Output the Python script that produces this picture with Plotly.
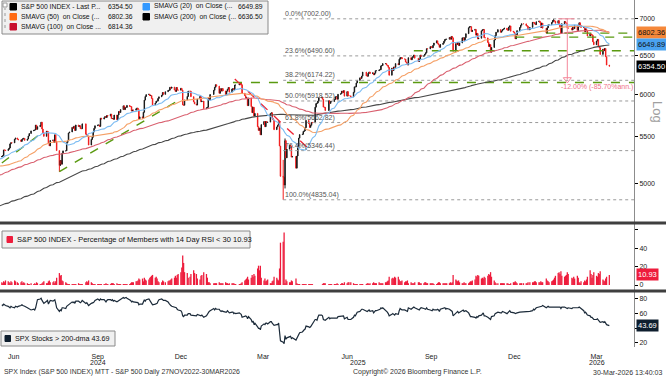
import math
import numpy as np
import pandas as pd
import plotly.graph_objects as go

# ---------------- data ----------------
HOLIDAYS = ["2023-09-04", "2023-11-23", "2023-12-25", "2024-01-01", "2024-01-15", "2024-02-19",
            "2024-03-29", "2024-05-27", "2024-06-19", "2024-07-04", "2024-09-02", "2024-11-28",
            "2024-12-25", "2025-01-01", "2025-01-09", "2025-01-20", "2025-02-17", "2025-04-18",
            "2025-05-26", "2025-06-19", "2025-07-04", "2025-09-01", "2025-11-27", "2025-12-25",
            "2026-01-01", "2026-01-19", "2026-02-16"]

close_2023 = [4577, 4513, 4502, 4478, 4518, 4499, 4468, 4469, 4464, 4490, 4438, 4404, 4370, 4370, 4400, 4388, 4436, 4376, 4406, 4433, 4498, 4515, 4508,
              4516, 4497, 4465, 4451, 4457, 4487, 4462, 4467, 4505, 4450, 4454, 4444, 4402, 4330, 4320, 4337, 4274, 4275, 4300, 4288,
              4288, 4229, 4264, 4258, 4309, 4336, 4358, 4377, 4350, 4328, 4374, 4373, 4315, 4278, 4224, 4217, 4248, 4187, 4137, 4117, 4167, 4194,
              4238, 4318, 4358, 4366, 4378, 4383, 4347, 4415, 4412, 4496, 4503, 4508, 4514, 4547, 4538, 4557, 4559, 4550, 4555, 4551, 4568,
              4595, 4570, 4567, 4549, 4586, 4604, 4622, 4644, 4707, 4720, 4719, 4741, 4768, 4698, 4747, 4755, 4775, 4782, 4783, 4770]
close_2024 = [4743, 4705, 4689, 4697, 4764, 4757, 4783, 4780, 4784, 4766, 4739, 4781, 4840, 4850, 4865, 4869, 4894, 4891, 4928, 4925, 4846,
              4906, 4959, 4943, 4954, 4995, 4998, 5027, 5022, 4953, 5001, 5030, 5006, 4976, 4982, 5087, 5089, 5070, 5078, 5070, 5096,
              5137, 5131, 5079, 5105, 5157, 5124, 5118, 5175, 5165, 5150, 5117, 5149, 5179, 5225, 5242, 5234, 5218, 5204, 5248, 5254,
              5244, 5206, 5211, 5147, 5204, 5202, 5210, 5161, 5199, 5123, 5062, 5051, 5022, 5011, 4967, 5011, 5071, 5072, 5048, 5100, 5116, 5036,
              5018, 5064, 5128, 5181, 5188, 5188, 5214, 5223, 5221, 5247, 5308, 5297, 5303, 5308, 5321, 5307, 5268, 5305, 5306, 5267, 5235, 5278,
              5283, 5291, 5354, 5353, 5347, 5361, 5375, 5421, 5434, 5432, 5473, 5487, 5473, 5465, 5448, 5469, 5478, 5483, 5460,
              5475, 5509, 5537, 5567, 5573, 5577, 5634, 5585, 5615, 5631, 5667, 5588, 5545, 5505, 5564, 5556, 5427, 5399, 5459, 5464, 5436, 5522,
              5447, 5347, 5186, 5240, 5200, 5319, 5344, 5344, 5434, 5455, 5543, 5554, 5608, 5597, 5621, 5571, 5635, 5617, 5626, 5592, 5592, 5648,
              5529, 5520, 5503, 5408, 5471, 5496, 5554, 5596, 5626, 5633, 5635, 5618, 5714, 5703, 5719, 5733, 5722, 5745, 5738, 5762,
              5709, 5710, 5700, 5751, 5696, 5751, 5792, 5780, 5815, 5860, 5815, 5842, 5841, 5865, 5854, 5851, 5797, 5810, 5808, 5824, 5833, 5814, 5705,
              5729, 5713, 5783, 5929, 5973, 5996, 6001, 5984, 5985, 5949, 5871, 5894, 5917, 5917, 5949, 5969, 5987, 6022, 5999, 6032,
              6047, 6050, 6086, 6075, 6090, 6053, 6035, 6084, 6051, 6051, 6074, 6051, 5872, 5867, 5931, 5974, 6040, 6038, 5971, 5907, 5882]
close_2025 = [5869, 5942, 5975, 5909, 5918, 5827, 5836, 5843, 5950, 5937, 5997, 6049, 6086, 6119, 6101, 6012, 6068, 6039, 6071, 6041,
              5995, 6038, 6061, 6084, 6026, 6066, 6069, 6052, 6115, 6115, 6130, 6144, 6118, 6013, 5983, 5955, 5956, 5862, 5955,
              5850, 5778, 5843, 5739, 5770, 5615, 5572, 5599, 5522, 5639, 5675, 5615, 5675, 5663, 5668, 5768, 5777, 5712, 5693, 5581, 5612,
              5633, 5671, 5397, 5074, 5062, 4983, 5457, 5268, 5363, 5406, 5397, 5276, 5283, 5158, 5288, 5376, 5485, 5525, 5529, 5561, 5569,
              5604, 5687, 5650, 5607, 5631, 5664, 5660, 5844, 5887, 5893, 5917, 5958, 5964, 5940, 5845, 5842, 5803, 5922, 5889, 5912, 5912,
              5936, 5970, 5971, 5939, 6000, 6006, 6039, 6022, 6045, 5977, 6033, 5983, 5981, 5968, 6025, 6092, 6092, 6141, 6173, 6205,
              6198, 6227, 6279, 6230, 6226, 6263, 6280, 6260, 6269, 6244, 6264, 6297, 6297, 6306, 6310, 6359, 6363, 6389, 6390, 6371, 6363, 6339,
              6238, 6330, 6299, 6345, 6340, 6389, 6373, 6446, 6467, 6469, 6450, 6449, 6411, 6396, 6370, 6467, 6439, 6466, 6481, 6502, 6460,
              6416, 6448, 6502, 6482, 6495, 6513, 6532, 6587, 6584, 6615, 6607, 6600, 6632, 6664, 6694, 6657, 6638, 6605, 6644, 6661, 6688,
              6711, 6715, 6716, 6740, 6715, 6754, 6735, 6553, 6655, 6644, 6671, 6629, 6664, 6735, 6735, 6699, 6738, 6792, 6875, 6891, 6891, 6822, 6840,
              6852, 6772, 6796, 6720, 6729, 6832, 6847, 6851, 6737, 6734, 6672, 6617, 6642, 6539, 6603, 6705, 6766, 6813, 6849,
              6812, 6829, 6850, 6857, 6870, 6846, 6840, 6886, 6901, 6827, 6816, 6800, 6721, 6775, 6835, 6878, 6910, 6932, 6930, 6906, 6896, 6845]
close_2026 = [6880, 6952, 6950, 6930, 6920, 6960, 6970, 6950, 6879, 6941, 6869, 6800, 6875, 6915, 6916, 6950, 6978, 6978, 6969, 6939,
              6976, 6917, 6883, 6798, 6932, 6964, 6942, 6941, 6870, 6870, 6843, 6881, 6862, 6910, 6838, 6890, 6946, 6909, 6879,
              6880, 6820, 6860, 6830, 6760, 6790, 6780, 6770, 6680, 6640, 6690, 6713, 6620, 6600, 6510, 6580, 6560, 6590, 6480, 6370, 6354.5]

wick_dates = ["2024-08-05", "2025-04-04", "2025-04-07", "2025-04-09", "2026-01-28"]
wick_lows = [5119.3, 5069.9, 4835.04, 4948.4, 6960.0]
wick_highs = [5250.9, 5292.1, 5246.6, 5481.3, 7002.0]

rsi_2024 = [3, 2, 4, 3, 5, 4, 3, 2, 4, 3, 5, 4, 3, 2, 3, 4, 2, 3, 2,
            2, 1, 1, 2, 1, 2, 1, 3, 2, 1, 1, 2, 3, 4, 2, 2, 4, 5, 3, 3, 4, 2,
            4, 8, 13, 10, 11, 5, 4, 3, 2, 1, 1, 1, 1, 1, 1, 1, 1, 2, 1, 1, 1, 1,
            3, 4, 3, 5, 3, 2, 1, 1, 1, 1, 1, 1, 1, 1, 1, 1, 2, 1, 1, 1,
            2, 2, 2, 1, 2, 1, 1, 1, 1, 1, 1, 1, 1, 1, 1, 2, 3, 3, 3, 4, 4, 5, 7,
            6, 7, 4, 8, 6, 5, 6, 8, 9, 10, 11, 8, 9, 7, 4, 3, 3, 5, 4, 3,
            4, 5, 5, 6, 7, 8, 10, 8, 11, 12, 14, 19, 32, 24, 14, 13, 8, 9, 12, 16, 13]
rsi_2025 = [12, 7, 6, 10, 11, 14, 12, 8, 3, 3, 2, 2, 2, 2, 2, 3, 2, 2, 2, 2,
            3, 2, 2, 1, 2, 2, 2, 2, 1, 1, 1, 1, 2, 3, 5, 6, 7, 9, 6,
            8, 11, 9, 12, 10, 18, 21, 16, 21, 8, 5, 7, 4, 5, 6, 2, 2, 4, 5, 9, 8,
            6, 5, 18, 46, 47, 57, 2, 6, 4, 3, 3, 5, 4, 7, 2, 1, 1, 1, 1, 1, 1,
            1, 1, 1, 1, 1, 1, 1, 0, 0, 0, 0, 0, 0, 1, 2, 2, 2, 1, 1, 1, 1,
            1, 1, 1, 2, 1, 1, 2, 2, 1, 3, 2, 3, 3, 3, 2, 1, 1, 1, 1, 1,
            1, 1, 1, 1, 2, 2, 1, 2, 2, 3, 2, 2, 2, 3, 2, 2, 2, 2, 3, 3, 4, 5,
            9, 7, 8, 7, 9, 8, 9, 6, 4, 4, 5, 3, 4, 4, 5, 2, 3, 2, 2, 2, 3,
            3, 3, 2, 2, 2, 3, 3, 2, 2, 2, 2, 2, 2, 1, 1, 2, 3, 3, 2, 2, 2,
            2, 2, 2, 2, 3, 2, 3, 11, 6, 5, 4, 5, 3, 2, 2, 3, 2, 2, 2, 3, 4, 4, 5,
            6, 10, 9, 11, 10, 7, 8, 7, 9, 8, 10, 12, 11, 14, 9, 5, 3, 2, 2,
            2, 2, 2, 2, 2, 2, 2, 1, 1, 2, 3, 3, 4, 3, 2, 2, 2, 2, 2, 2, 2, 3]
rsi_2026 = [3, 3, 3, 4, 4, 3, 3, 3, 4, 3, 3, 7, 5, 4, 3, 4, 5, 6, 8, 10,
            13, 14, 12, 15, 10, 9, 10, 11, 14, 12, 8, 7, 9, 7, 10, 8, 3, 2, 4,
            3, 5, 4, 6, 9, 16, 12, 8, 11, 14, 10, 9, 13, 12, 15, 6, 5, 4, 7, 9, 10.93]

breadth_2024 = [72, 71, 73, 72, 71, 70, 69, 68, 70, 69, 68, 70, 69, 70, 71, 72, 71, 70, 70,
                68, 67, 66, 65, 66, 65, 68, 76, 79, 80, 81, 78, 75, 74, 77, 78, 73, 75, 78, 77, 78, 79,
                74, 68, 63, 65, 64, 68, 68, 67, 70, 71, 73, 74, 76, 75, 76, 74, 77, 77, 76, 75, 76, 78,
                74, 75, 73, 71, 74, 74, 75, 76, 78, 80, 79, 78, 80, 79, 79, 78, 76, 78, 79, 79,
                78, 79, 77, 78, 76, 77, 78, 79, 80, 82, 81, 82, 82, 81, 79, 78, 76, 77, 76, 76, 76, 75, 72,
                73, 73, 76, 79, 77, 79, 80, 77, 76, 74, 72, 73, 73, 74, 77, 79, 80, 79, 78, 78,
                76, 74, 72, 71, 70, 69, 68, 68, 66, 65, 64, 62, 57, 56, 58, 58, 60, 60, 58, 57, 57]
breadth_2025 = [57, 59, 58, 57, 58, 55, 57, 59, 62, 63, 64, 67, 65, 67, 66, 66, 64, 63, 64, 63,
                62, 62, 64, 63, 61, 62, 62, 60, 61, 60, 61, 60, 59, 55, 56, 57, 56, 53, 56,
                52, 48, 50, 46, 47, 42, 40, 40, 38, 43, 46, 45, 47, 47, 46, 49, 49, 47, 46, 44, 45,
                45, 47, 36, 23, 21, 19, 30, 25, 27, 29, 29, 26, 27, 24, 27, 29, 32, 34, 35, 37, 38,
                39, 43, 42, 41, 42, 44, 45, 52, 52, 51, 55, 58, 58, 57, 52, 52, 51, 55, 53, 54, 54,
                54, 55, 55, 54, 56, 56, 57, 56, 57, 53, 55, 52, 52, 52, 55, 58, 57, 59, 62, 63,
                65, 66, 66, 63, 63, 64, 65, 63, 64, 61, 63, 64, 64, 65, 66, 68, 67, 68, 65, 64, 62, 60,
                57, 59, 60, 59, 58, 60, 59, 64, 67, 66, 65, 65, 64, 64, 63, 68, 66, 67, 68, 69, 68,
                66, 65, 67, 68, 67, 67, 66, 68, 66, 65, 64, 64, 66, 65, 65, 66, 65, 63, 66, 67, 67,
                68, 66, 67, 66, 65, 65, 63, 57, 60, 62, 63, 61, 62, 64, 65, 63, 63, 64, 61, 58, 56, 56, 56,
                55, 54, 56, 55, 57, 58, 60, 61, 57, 57, 55, 54, 54, 52, 56, 57, 60, 61, 62,
                61, 61, 63, 62, 62, 60, 61, 63, 64, 62, 62, 61, 60, 60, 61, 62, 62, 63, 63, 62, 63, 62]
breadth_2026 = [63, 64, 66, 65, 67, 68, 69, 69, 70, 70, 71, 68, 69, 70, 69, 69, 68, 68, 69, 68,
                69, 68, 69, 67, 69, 69, 68, 68, 67, 68, 67, 68, 68, 68, 67, 68, 69, 68, 66,
                64, 61, 62, 60, 58, 57, 55, 55, 53, 52, 52, 53, 51, 50, 48, 49, 48, 49, 47, 45, 43.69]

fib_pct = ["0.0%", "23.6%", "38.2%", "50.0%", "61.8%", "76.4%", "100.0%"]
fib_val = [7002.00, 6490.60, 6174.22, 5918.52, 5662.82, 5346.44, 4835.04]

green_x0 = ["2024-06-03", "2024-08-05", "2025-02-11", "2025-08-28", "2025-12-17", "2026-01-20"]
green_y0 = [5213, 5121, 6147, 6560, 6745, 6800]
green_x1 = ["2024-07-18", "2024-12-17", "2026-04-26", "2026-04-26", "2026-04-26", "2026-04-26"]
green_y1 = [5555, 5951, 6147, 6560, 6745, 6800]

red_x = ["2025-02-13", "2025-05-03"]
red_y = [6191, 5385]

legend_vals = {"last": "6354.50", "sma20": "6649.89", "sma50": "6802.36", "sma100": "6814.36", "sma200": "6636.50"}

# ---------------- geometry ----------------
W, H = 666, 377
ML, MR, MT, MB = 0, 32, 0, 30
PW, PH = W - ML - MR, H - MT - MB
FONT = "Liberation Sans, Arial, sans-serif"


def px(xp):
    return (xp - ML) / PW


def py(yp):
    return 1 - (yp - MT) / PH


X0, X1 = "2024-06-01", "2026-04-26"

trade_days = pd.bdate_range("2023-08-01", "2026-03-30", freq="C", holidays=HOLIDAYS)

close = np.array(close_2023 + close_2024 + close_2025 + close_2026, dtype=float)
cdates = trade_days[-len(close):]
s = pd.Series(close, index=cdates)
smas = {n: s.rolling(n).mean() for n in (20, 50, 100, 200)}
opens = s.shift(1).fillna(s.iloc[0])
highs = pd.Series(np.maximum(opens.values, s.values), index=cdates)
lows = pd.Series(np.minimum(opens.values, s.values), index=cdates)
for d, lo, hi in zip(wick_dates, wick_lows, wick_highs):
    d = pd.Timestamp(d)
    if d in highs.index:
        highs[d] = max(highs[d], hi)
        lows[d] = min(lows[d], lo)

vis = cdates >= pd.Timestamp("2024-05-15")

rsi = rsi_2024 + rsi_2025 + rsi_2026
rdates = trade_days[-len(rsi):]
breadth = breadth_2024 + breadth_2025 + breadth_2026
bdates = trade_days[-len(breadth):]

fig = go.Figure()

for v in fib_val:
    fig.add_trace(go.Scatter(x=["2025-04-07", X1], y=[v, v], mode="lines", yaxis="y3",
                             line=dict(color="#9a9a9a", width=1, dash="dot"), hoverinfo="skip"))
for a, b, c, d in zip(green_x0, green_y0, green_x1, green_y1):
    fig.add_trace(go.Scatter(x=[a, c], y=[b, d], mode="lines", yaxis="y3",
                             line=dict(color="#5a9a10", width=1.4, dash="dash"), hoverinfo="skip"))
fig.add_trace(go.Scatter(x=red_x, y=red_y, mode="lines", yaxis="y3",
                         line=dict(color="#ee2233", width=1.3, dash="dash"), hoverinfo="skip"))

ma_style = {200: "#474747", 100: "#d9606f", 50: "#f5a066", 20: "#7cbcf2"}
for n in (200, 100, 50, 20):
    m = smas[n][vis]
    fig.add_trace(go.Scatter(x=m.index, y=m.values, mode="lines", yaxis="y3",
                             line=dict(color=ma_style[n], width=1.1), hoverinfo="skip"))

fig.add_trace(go.Candlestick(
    x=cdates[vis], open=opens[vis], high=highs[vis], low=lows[vis], close=s[vis], yaxis="y3",
    increasing=dict(line=dict(color="#1a1a1a", width=1), fillcolor="#1a1a1a"),
    decreasing=dict(line=dict(color="#f21d1d", width=1), fillcolor="#f21d1d"),
    whiskerwidth=0, hoverinfo="skip"))

fig.add_trace(go.Scatter(x=["2026-02-02", "2026-02-20"], y=[7002, 7002], mode="lines", yaxis="y3",
                         line=dict(color="#f4889a", width=1), hoverinfo="skip"))
fig.add_trace(go.Scatter(x=["2026-02-12", "2026-02-12"], y=[7002, 6185], mode="lines", yaxis="y3",
                         line=dict(color="#f4889a", width=1), hoverinfo="skip"))
fig.add_trace(go.Scatter(x=["2026-02-12"], y=[6185], mode="markers", yaxis="y3",
                         marker=dict(symbol="triangle-down-open", size=7, color="#f4889a"), hoverinfo="skip"))

fig.add_trace(go.Bar(x=rdates, y=rsi, yaxis="y2", width=86400000 * 1.4,
                     marker=dict(color="#ee1c3c", line=dict(width=0)), hoverinfo="skip"))
fig.add_trace(go.Scatter(x=bdates, y=breadth, mode="lines", yaxis="y",
                         line=dict(color="#1c2b3a", width=1.2), hoverinfo="skip"))

yax = dict(side="right", showline=True, linecolor="#8c8c8c", linewidth=1, ticks="outside",
           ticklen=3, tickwidth=1, tickcolor="#000", showgrid=False, zeroline=False,
           tickfont=dict(size=7, color="#222", family=FONT), anchor="x", fixedrange=True)

fig.update_layout(
    width=W, height=H, margin=dict(l=ML, r=MR, t=MT, b=MB, pad=0),
    paper_bgcolor="white", plot_bgcolor="white", showlegend=False, hovermode=False,
    font=dict(family=FONT, size=7, color="#222"),
    xaxis=dict(type="date", range=[X0, X1], anchor="y", showgrid=False, zeroline=False, showline=False,
               ticks="", ticklabelstandoff=4, fixedrange=True,
               tickvals=["2024-06-16", "2024-09-16", "2024-12-16", "2025-03-16", "2025-06-16",
                         "2025-09-16", "2025-12-16", "2026-03-16"],
               ticktext=["Jun", "Sep", "Dec", "Mar", "Jun", "Sep", "Dec", "Mar"],
               tickfont=dict(size=7, color="#222", family=FONT), rangeslider=dict(visible=False)),
    yaxis=dict(domain=[0, py(292)], range=[14.5, 89.5], tickvals=[20, 40, 60, 80],
               ticktext=["20", "", "60", "80"], **yax),
    yaxis2=dict(domain=[py(290), py(224)], range=[-5.4, 66.3], tickvals=[0, 20, 40, 60],
                ticktext=["0", "20", "40", ""], **yax),
    yaxis3=dict(domain=[py(222), 1], type="log", range=[math.log10(4620), math.log10(7277)],
                tickvals=[5000, 5500, 6000, 6500, 7000], ticktext=["5000", "5500", "6000", "6500", "7000"], **yax),
)

for yy in (223, 291):
    fig.add_shape(type="line", xref="paper", yref="paper", x0=0, x1=px(W), y0=py(yy), y1=py(yy),
                  line=dict(color="#3f3f3f", width=3))

for p, v in zip(fib_pct, fib_val):
    fig.add_annotation(x="2025-04-07", xref="x", y=math.log10(v), yref="y3", xanchor="left", yanchor="bottom",
                       text=f"{p}({v:.2f})", showarrow=False, font=dict(size=7, color="#555"), yshift=-1)

fig.add_annotation(x="2026-03-16", xref="x", y=math.log10(6090), yref="y3", xanchor="center", yanchor="middle",
                   text="-12.00% (-85.70%ann.)", showarrow=False, font=dict(size=7, color="#f07088"))


def badge(y, yref, text, bg, fg):
    fig.add_annotation(x=1, xref="paper", xshift=2, xanchor="left", y=y, yref=yref, yanchor="middle",
                       text=text, showarrow=False, bgcolor=bg, borderpad=1,
                       font=dict(size=7.5, color=fg, family=FONT))


badge(math.log10(6802.36), "y3", "6802.36", "#f5883a", "#111")
badge(math.log10(6649.89), "y3", "6649.89", "#4aa3f0", "#111")
badge(math.log10(6354.50), "y3", "6354.50", "#000000", "#fff")
badge(10.93, "y2", "10.93", "#ee1c3c", "#fff")
badge(43.69, "y", "43.69", "#0e1e2e", "#fff")

fig.add_annotation(x=px(658), xref="paper", y=py(112), yref="paper", text="Log", textangle=90,
                   xanchor="center", yanchor="middle",
                   showarrow=False, font=dict(size=13, color="#a0a0a0"))


def rect(x0, y0, x1, y1, fill, line="#8a8a8a"):
    fig.add_shape(type="rect", xref="paper", yref="paper", x0=px(x0), x1=px(x1), y0=py(y1), y1=py(y0),
                  fillcolor=fill, line=dict(color=line, width=1))


def txt(x, y, text, anchor="left", size=7, color="#111"):
    fig.add_annotation(x=px(x), xref="paper", y=py(y), yref="paper", xanchor=anchor, yanchor="middle",
                       text=text, showarrow=False, font=dict(size=size, color=color, family=FONT))


rect(2, 1, 268, 34, "#f0f0f0")
# small tree icon
fig.add_shape(type="line", xref="paper", yref="paper", x0=px(5), x1=px(5), y0=py(28), y1=py(8),
              line=dict(color="#9a9a9a", width=1, dash="dot"))
rect(3, 3, 7, 7, "#ffffff", line="#9a9a9a")
rows = [(6.5, 10, "#000000", "S&P 500 INDEX - Last P...", legend_vals["last"], 135),
        (16.5, 10, "#ff6a13", "SMAVG (50)  on Close (...", legend_vals["sma50"], 135),
        (26.5, 10, "#c8102e", "SMAVG (100)  on Close ...", legend_vals["sma100"], 135),
        (6.5, 143, "#3399ff", "SMAVG (20)  on Close (...", legend_vals["sma20"], 265),
        (16.5, 143, "#000000", "SMAVG (200)  on Close (...", legend_vals["sma200"], 265)]
for yc, xs, col, lab, val, xr in rows:
    rect(xs, yc - 3, xs + 6.5, yc + 3.5, col, line=col)
    txt(xs + 9, yc, lab, size=6.8)
    txt(xr, yc, val, anchor="right", size=6.8)

rect(2, 231, 250, 248, "#f0f0f0")
rect(7, 236.5, 12.5, 242.5, "#ee1c3c", line="#ee1c3c")
txt(15, 239.5, "S&P 500 INDEX - Percentage of Members with 14 Day RSI < 30 10.93", size=7.5)

rect(1, 331, 115, 346, "#f0f0f0")
rect(5, 335.5, 10.5, 341.5, "#0e1e2e", line="#0e1e2e")
txt(13, 338.5, "SPX Stocks > 200-dma 43.69", size=7.2)

for d, yl in zip(["2024-09-16", "2025-06-28", "2026-03-16"], ["2024", "2025", "2026"]):
    fig.add_annotation(x=d, xref="x", y=py(362), yref="paper", text=yl, showarrow=False,
                       xanchor="center", yanchor="middle", font=dict(size=7, color="#222"))

txt(2, 372, "SPX Index (S&P 500 INDEX) MTT - S&P 500 Daily 27NOV2022-30MAR2026", size=6.9, color="#333")
txt(417, 372, "Copyright\u00a9 2026 Bloomberg Finance L.P.", anchor="center", size=7, color="#333")
txt(664, 372, "30-Mar-2026 13:40:03", anchor="right", size=7, color="#333")

fig.write_html("out.html", config={"displayModeBar": False, "staticPlot": True},
               post_script="document.body.style.margin='0';document.body.style.padding='0';")
